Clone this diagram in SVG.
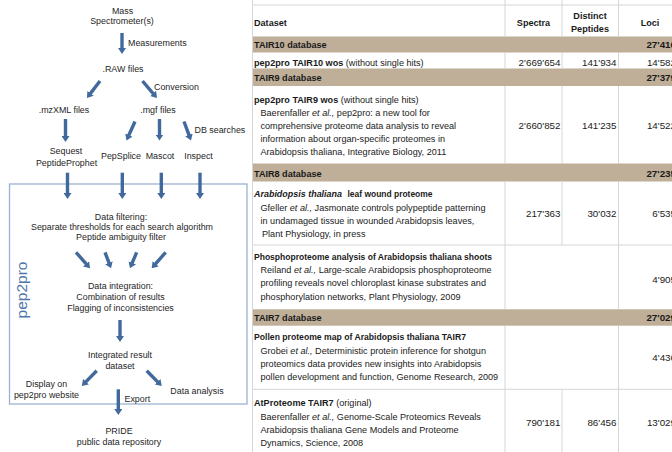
<svg xmlns="http://www.w3.org/2000/svg" width="672" height="452" viewBox="0 0 672 452">
<defs>
<marker id="ah" viewBox="0 0 6 8" markerWidth="6" markerHeight="8" markerUnits="userSpaceOnUse" refX="0.5" refY="4" orient="auto">
<path d="M0,0 L6,4 L0,8 z" fill="#41699c"/>
</marker>
<style>
.t{font-family:"Liberation Sans",Arial,sans-serif;font-size:8.9px;fill:#262626}
.c{text-anchor:middle}
.a{stroke:#41699c;stroke-width:3.4;fill:none;marker-end:url(#ah)}
.tb{font-family:"Liberation Sans",Arial,sans-serif;font-size:9.1px;fill:#1a1a1a}
.n{font-size:9.8px}
.b{font-weight:bold}
.i{font-style:italic}
.r{text-anchor:end}
.band{fill:#bfae98}
.g{stroke:#d6d6d6;stroke-width:1;fill:none}
</style>
</defs>
<rect width="672" height="452" fill="#fff"/>

<g id="pep2pro-box">
<rect x="9.5" y="184" width="237.5" height="220" fill="none" stroke="#9db2d0" stroke-width="1.3"/>
<text transform="translate(27,290) rotate(-90)" text-anchor="middle" style="font-family:'Liberation Sans',Arial,sans-serif;font-size:15.5px;fill:#4f76ad">pep2pro</text>
</g>

<g id="connectors">
<line class="a" x1="122" y1="33" x2="122" y2="48.5"/>
<line class="a" x1="100" y1="81" x2="90.3" y2="93.6"/>
<line class="a" x1="142.5" y1="81" x2="153.4" y2="93.8"/>
<line class="a" x1="65.5" y1="119" x2="65.5" y2="136.5"/>
<line class="a" x1="135" y1="121.5" x2="128.7" y2="135.5"/>
<line class="a" x1="159.5" y1="119" x2="159.5" y2="135"/>
<line class="a" x1="184" y1="121.5" x2="189.1" y2="135.3"/>
<line class="a" x1="67.5" y1="172.7" x2="67.5" y2="193.5"/>
<line class="a" x1="122.3" y1="172.7" x2="122.3" y2="193.5"/>
<line class="a" x1="161.3" y1="172.7" x2="161.3" y2="193.5"/>
<line class="a" x1="200" y1="172.7" x2="200" y2="193.5"/>
<line class="a" x1="76" y1="252.3" x2="86.4" y2="264.2"/>
<line class="a" x1="105" y1="252.3" x2="109.1" y2="263.2"/>
<line class="a" x1="136.7" y1="252.3" x2="132.1" y2="263.2"/>
<line class="a" x1="165.7" y1="252.3" x2="155.3" y2="264.2"/>
<line class="a" x1="120" y1="320" x2="120" y2="336.5"/>
<line class="a" x1="96.7" y1="370.7" x2="85.6" y2="382.1"/>
<line class="a" x1="146.7" y1="370.7" x2="157.9" y2="382.1"/>
<line class="a" x1="118.3" y1="389.3" x2="118.3" y2="409.5"/>
<text class="t" x="128" y="46">Measurements</text>
<text class="t" x="154" y="90">Conversion</text>
<text class="t" x="194.5" y="132.5">DB searches</text>
<text class="t" x="124.5" y="401.5">Export</text>
</g>

<g id="mass-spec"><text class="t c" x="122.5" y="13.5">Mass</text><text class="t c" x="122" y="24">Spectrometer(s)</text></g>
<g id="raw-files"><text class="t c" x="123" y="71.5">.RAW files</text></g>
<g id="mzxml-files"><text class="t c" x="64" y="112.5">.mzXML files</text></g>
<g id="mgf-files"><text class="t c" x="158" y="112.5">.mgf files</text></g>
<g id="sequest"><text class="t c" x="66" y="154">Sequest</text><text class="t c" x="66.5" y="165.5">PeptideProphet</text></g>
<g id="pepsplice"><text class="t c" x="121" y="158.5">PepSplice</text></g>
<g id="mascot"><text class="t c" x="160" y="158.5">Mascot</text></g>
<g id="inspect"><text class="t c" x="198.5" y="158.5">Inspect</text></g>
<g id="data-filtering"><text class="t c" x="121" y="219.7">Data filtering:</text><text class="t c" x="122" y="229.5">Separate thresholds for each search algorithm</text><text class="t c" x="121" y="240.3">Peptide ambiguity filter</text></g>
<g id="data-integration"><text class="t c" x="120.5" y="289">Data integration:</text><text class="t c" x="120.5" y="300">Combination of results</text><text class="t c" x="120.5" y="311">Flagging of inconsistencies</text></g>
<g id="integrated-result"><text class="t c" x="120" y="358">Integrated result</text><text class="t c" x="120" y="369">dataset</text></g>
<g id="display"><text class="t c" x="46.5" y="387">Display on</text><text class="t c" x="46.5" y="398">pep2pro website</text></g>
<g id="data-analysis"><text class="t c" x="197" y="394">Data analysis</text></g>
<g id="pride"><text class="t c" x="119" y="434">PRIDE</text><text class="t c" x="119" y="444.5">public data repository</text></g>

<g id="table">
<rect class="band" x="252.5" y="36.5" width="425" height="16"/>
<rect class="band" x="252.5" y="68.5" width="425" height="17.5"/>
<rect class="band" x="252.5" y="163.5" width="425" height="18"/>
<rect class="band" x="252.5" y="309.3" width="425" height="16.4"/>
<g class="g">
<line x1="252.5" y1="5" x2="680" y2="5"/>
<line x1="252.5" y1="245" x2="680" y2="245"/>
<line x1="252.5" y1="389.3" x2="680" y2="389.3"/>
<line x1="252.5" y1="0" x2="252.5" y2="452"/>
<path d="M505,0V36.5 M505,52.5V68.5 M505,86V163.5 M505,181.5V309.3 M505,325.7V452"/>
<path d="M562,0V36.5 M562,52.5V68.5 M562,86V163.5 M562,181.5V245 M562,389.3V452"/>
<path d="M618.5,0V36.5 M618.5,52.5V68.5 M618.5,86V163.5 M618.5,181.5V309.3 M618.5,325.7V452"/>
</g>
<text class="tb b" x="254" y="26">Dataset</text>
<text class="tb b c" x="533.5" y="26">Spectra</text>
<text class="tb b c" x="590" y="18.5">Distinct</text>
<text class="tb b c" x="590" y="32">Peptides</text>
<text class="tb b c" x="650" y="26">Loci</text>

<text class="tb b" x="254" y="47.5">TAIR10 database</text>
<text class="tb n b r" x="676" y="47.5">27'416</text>
<text class="tb" x="254" y="66.3"><tspan class="b">pep2pro TAIR10 wos</tspan> (without single hits)</text>
<text class="tb n r" x="560.5" y="66.3">2'669'654</text>
<text class="tb n r" x="616.5" y="66.3">141'934</text>
<text class="tb n r" x="676" y="66.3">14'582</text>

<text class="tb b" x="254" y="80.5">TAIR9 database</text>
<text class="tb n b r" x="676" y="80.5">27'379</text>
<text class="tb" x="254" y="103"><tspan class="b">pep2pro TAIR9 wos</tspan> (without single hits)</text>
<text class="tb" x="260.5" y="116.3">Baerenfaller <tspan class="i">et al.,</tspan>  pep2pro: a new tool for</text>
<text class="tb" x="260.5" y="129.3">comprehensive proteome data analysis to reveal</text>
<text class="tb" x="260.5" y="142.2">information about organ-specific proteomes in</text>
<text class="tb" x="260.5" y="155">Arabidopsis thaliana, Integrative Biology, 2011</text>
<text class="tb n r" x="560.5" y="129.3">2'660'852</text>
<text class="tb n r" x="616.5" y="129.3">141'235</text>
<text class="tb n r" x="676" y="129.3">14'522</text>

<text class="tb b" x="254" y="176.5">TAIR8 database</text>
<text class="tb n b r" x="676" y="176.5">27'235</text>
<text class="tb b i" x="254" y="197.3" textLength="88" lengthAdjust="spacingAndGlyphs">Arabidopsis thaliana</text>
<text class="tb b" x="347.5" y="197.3" textLength="85" lengthAdjust="spacingAndGlyphs">leaf wound proteome</text>
<text class="tb" x="260.5" y="210.7">Gfeller <tspan class="i">et al.,</tspan>  Jasmonate controls polypeptide patterning</text>
<text class="tb" x="260.5" y="224">in undamaged tissue in wounded Arabidopsis leaves,</text>
<text class="tb" x="262" y="237">Plant Physiology, in press</text>
<text class="tb n r" x="560.5" y="216.5">217'363</text>
<text class="tb n r" x="616.5" y="216.5">30'032</text>
<text class="tb n r" x="676" y="216.5">6'535</text>

<text class="tb b" x="254" y="259.7" textLength="238" lengthAdjust="spacingAndGlyphs">Phosphoproteome analysis of Arabidopsis thaliana shoots</text>
<text class="tb" x="260.5" y="273">Reiland <tspan class="i">et al.,</tspan>  Large-scale Arabidopsis phosphoproteome</text>
<text class="tb" x="260.5" y="286">profiling reveals novel chloroplast kinase substrates and</text>
<text class="tb" x="260.5" y="299.5">phosphorylation networks,  Plant Physiology, 2009</text>
<text class="tb n r" x="676" y="283">4'905</text>

<text class="tb b" x="254" y="320.5">TAIR7 database</text>
<text class="tb n b r" x="676" y="320.5">27'029</text>
<text class="tb b" x="254" y="340.3" textLength="212" lengthAdjust="spacingAndGlyphs">Pollen proteome map of Arabidopsis thaliana TAIR7</text>
<text class="tb" x="260.5" y="354">Grobei <tspan class="i">et al.,</tspan>  Deterministic protein inference for shotgun</text>
<text class="tb" x="260.5" y="367">proteomics data provides new insights into Arabidopsis</text>
<text class="tb" x="260.5" y="380.3">pollen development and function, Genome Research, 2009</text>
<text class="tb n r" x="676" y="361.3">4'436</text>

<text class="tb" x="254" y="405.7"><tspan class="b">AtProteome TAIR7</tspan> (original)</text>
<text class="tb" x="260.5" y="419.7">Baerenfaller <tspan class="i">et al.,</tspan>  Genome-Scale Proteomics Reveals</text>
<text class="tb" x="260.5" y="433">Arabidopsis thaliana Gene Models and Proteome</text>
<text class="tb" x="260.5" y="446.3">Dynamics,  Science, 2008</text>
<text class="tb n r" x="560.5" y="425.7">790'181</text>
<text class="tb n r" x="616.5" y="425.7">86'456</text>
<text class="tb n r" x="676" y="425.7">13'029</text>
</g>
</svg>
